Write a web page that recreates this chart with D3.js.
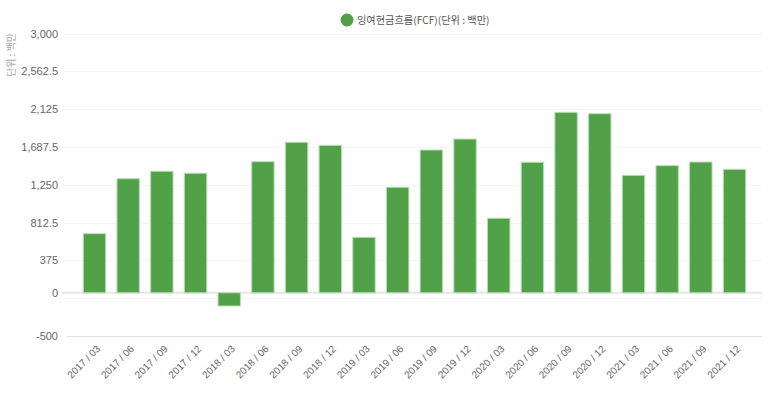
<!DOCTYPE html>
<html><head><meta charset="utf-8">
<script src="https://cdn.jsdelivr.net/npm/d3@7"></script>
<style>
html,body{margin:0;padding:0;background:#fff;}
svg{display:block;font-family:"Liberation Sans","Noto Sans CJK KR",sans-serif;}
</style></head>
<body>
<svg id="chart" width="773" height="393"></svg>
<script>
const categories = ["2017 / 03","2017 / 06","2017 / 09","2017 / 12","2018 / 03","2018 / 06","2018 / 09","2018 / 12","2019 / 03","2019 / 06","2019 / 09","2019 / 12","2020 / 03","2020 / 06","2020 / 09","2020 / 12","2021 / 03","2021 / 06","2021 / 09","2021 / 12"];
const fcfValues = [684,1320,1406,1383,-153,1517,1741,1706,642,1221,1652,1779,862,1510,2088,2072,1359,1471,1513,1429];
const gridValues = [3000,2562.5,2125,1687.5,1250,812.5,375,-62.5,-500];
const tickLabels = ["3,000","2,562.5","2,125","1,687.5","1,250","812.5","375","0","-500"];
const tickLabelValues = [3000,2562.5,2125,1687.5,1250,812.5,375,0,-500];
const seriesName = "잉여현금흐름(FCF)(단위 : 백만)";
const unitLabel = "단위 : 백만";

const svg = d3.select("#chart");
const y = d3.scaleLinear().domain([-500,3000]).range([336,33.5]);
const x = d3.scaleBand().domain(categories).range([72,757]).padding(0.335);
const green = "#51a149";
const latin = '"Liberation Sans",Arial,sans-serif';

// grid
svg.append("g").selectAll("line").data(gridValues).join("line")
  .attr("x1", d => d === -500 ? 67 : 62).attr("x2", 762)
  .attr("y1", d => Math.round(y(d)) + 0.5).attr("y2", d => Math.round(y(d)) + 0.5)
  .attr("stroke", d => d === -500 ? "#e3e3e3" : "#f4f4f4").attr("stroke-width", 1);
// zero baseline
svg.append("line").attr("x1", 62).attr("x2", 762)
  .attr("y1", y(0)).attr("y2", y(0)).attr("stroke", "#e6e6e6").attr("stroke-width", 2);

// y labels
const yAxis = d3.axisLeft(y).tickValues(tickLabelValues)
  .tickFormat((d,i) => tickLabels[i]).tickSize(0).tickPadding(0);
const ya = svg.append("g").attr("transform","translate(58,0)").call(yAxis);
ya.select(".domain").remove();
ya.selectAll("text").attr("fill","#666").style("font-size","11px")
  .style("font-family",latin);

// unit label
svg.append("text").attr("transform","translate(15,55) rotate(-90)")
  .attr("text-anchor","middle").attr("fill","#aaa").style("font-size","10px")
  .style("font-family",'"Noto Sans CJK KR",sans-serif').text(unitLabel);

// bars
svg.append("g").selectAll("rect").data(fcfValues).join("rect")
  .attr("x", (d,i) => x(categories[i]))
  .attr("width", x.bandwidth())
  .attr("y", d => y(Math.max(0,d)))
  .attr("height", d => Math.abs(y(d) - y(0)))
  .attr("fill", green).attr("stroke", "#b9dcb4").attr("stroke-width", 1);

// x labels
const xAxis = d3.axisBottom(x).tickSize(0).tickPadding(0);
const xa = svg.append("g").attr("transform","translate(0,340)").call(xAxis);
xa.select(".domain").remove();
xa.selectAll("text").attr("fill","#666").style("font-size","10px")
  .style("font-family",latin)
  .attr("text-anchor","end").attr("dy","0.35em")
  .attr("transform","translate(4,7) rotate(-45)");

// legend
svg.append("circle").attr("cx",347).attr("cy",20).attr("r",6.5).attr("fill",green);
svg.append("text").attr("x",357).attr("y",24).attr("fill","#555")
  .style("font-size","10.2px").style("font-family",'"Noto Sans CJK KR",sans-serif').text(seriesName);
</script>
</body></html>
